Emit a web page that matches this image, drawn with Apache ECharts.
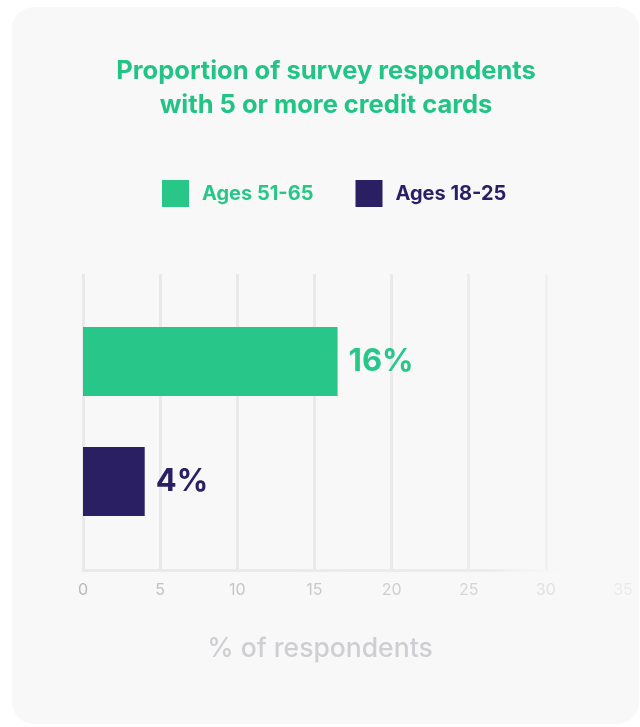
<!DOCTYPE html>
<html><head><meta charset="utf-8">
<script src="https://cdn.jsdelivr.net/npm/echarts@6/dist/echarts.min.js"></script>
<style>html,body{margin:0;padding:0;background:#fff}#c{width:640px;height:727px}</style>
</head><body><div id="c"></div>
<script>
const categories = ['Ages 51-65', 'Ages 18-25'];
const values = [16.5, 4];
const valueLabels = ['16%', '4%'];
const xTicks = [0, 5, 10, 15, 20, 25, 30, 35];
const titleText = 'Proportion of survey respondents\nwith 5 or more credit cards';
const axisTitle = '% of respondents';

const colors = ['#28c689', '#2b1f63'];
const tickColors = ['#b8b8bf', '#c0c0c5', '#c5c5ca', '#c9c9cd', '#cfcfd3', '#d5d5d8', '#e1e1e3', '#ebebed'];
const gridColors = ['#e9e9e9', '#e9e9e9', '#e9e9e9', '#e9e9e9', '#eaeaea', '#ececec', '#f1f1f1', 'rgba(0,0,0,0)'];
const FONT = 'Inter, "DejaVu Sans", sans-serif';

const chart = echarts.init(document.getElementById('c'));
const rich = {};
tickColors.forEach((c, i) => { rich['t' + i] = { color: c, fontSize: 16, fontFamily: FONT }; });

chart.setOption({
  backgroundColor: '#ffffff',
  graphic: [{
    type: 'rect', z: -10, silent: true,
    shape: { x: 12, y: 7, width: 627, height: 717, r: 22 },
    style: { fill: '#f8f8f8' }
  }],
  title: [{
    text: titleText, left: 321, top: 49, textAlign: 'center',
    textStyle: { color: '#22c486', fontSize: 25.5, fontWeight: 'bold', fontFamily: FONT, lineHeight: 34 }
  }, {
    text: axisTitle, left: 'center', top: 631,
    textStyle: { color: '#ceced3', fontSize: 26.5, fontWeight: 500, fontFamily: FONT }
  }],
  legend: {
    top: 175, left: 157, itemWidth: 27, itemHeight: 27, itemGap: 42,
    icon: 'rect',
    data: categories,
    textStyle: { color: 'inherit', fontSize: 20, fontWeight: 'bold', fontFamily: FONT, padding: [0, 0, 0, 8] }
  },
  grid: [
    { left: 83, right: 17, top: 274, bottom: 157 },
    { left: 83, right: 17, top: 301.5, height: 240 }
  ],
  xAxis: [{
    gridIndex: 0, type: 'value', min: xTicks[0], max: xTicks[xTicks.length - 1], interval: 5,
    axisLine: { show: true, lineStyle: { width: 3, color: new echarts.graphic.LinearGradient(0, 0, 1, 0, [
      { offset: 0, color: '#e9e9e9' }, { offset: 0.75, color: '#ececec' }, { offset: 0.92, color: 'rgba(248,248,248,0)' }, { offset: 1, color: 'rgba(248,248,248,0)' }]) } },
    axisTick: { show: false },
    splitLine: { show: true, lineStyle: { width: 3, color: gridColors } },
    axisLabel: {
      margin: 12,
      formatter: (v) => { const i = xTicks.indexOf(v); return '{t' + i + '|' + v + '}'; },
      rich: rich
    }
  }, {
    gridIndex: 1, type: 'value', min: xTicks[0], max: xTicks[xTicks.length - 1], show: false
  }],
  yAxis: [{
    gridIndex: 0, type: 'category', data: categories, show: false
  }, {
    gridIndex: 1, type: 'category', data: categories, inverse: true, show: false
  }],
  series: categories.map((name, si) => ({
    name: name, type: 'bar', xAxisIndex: 1, yAxisIndex: 1,
    barWidth: 69, barGap: '-100%',
    itemStyle: { color: colors[si] },
    label: {
      show: true, position: 'right', distance: 11,
      formatter: (p) => valueLabels[p.dataIndex],
      color: colors[si], fontSize: 31, fontWeight: 'bold', fontFamily: FONT
    },
    data: values.map((v, i) => i === si ? v : '-')
  }))
});
</script></body></html>
